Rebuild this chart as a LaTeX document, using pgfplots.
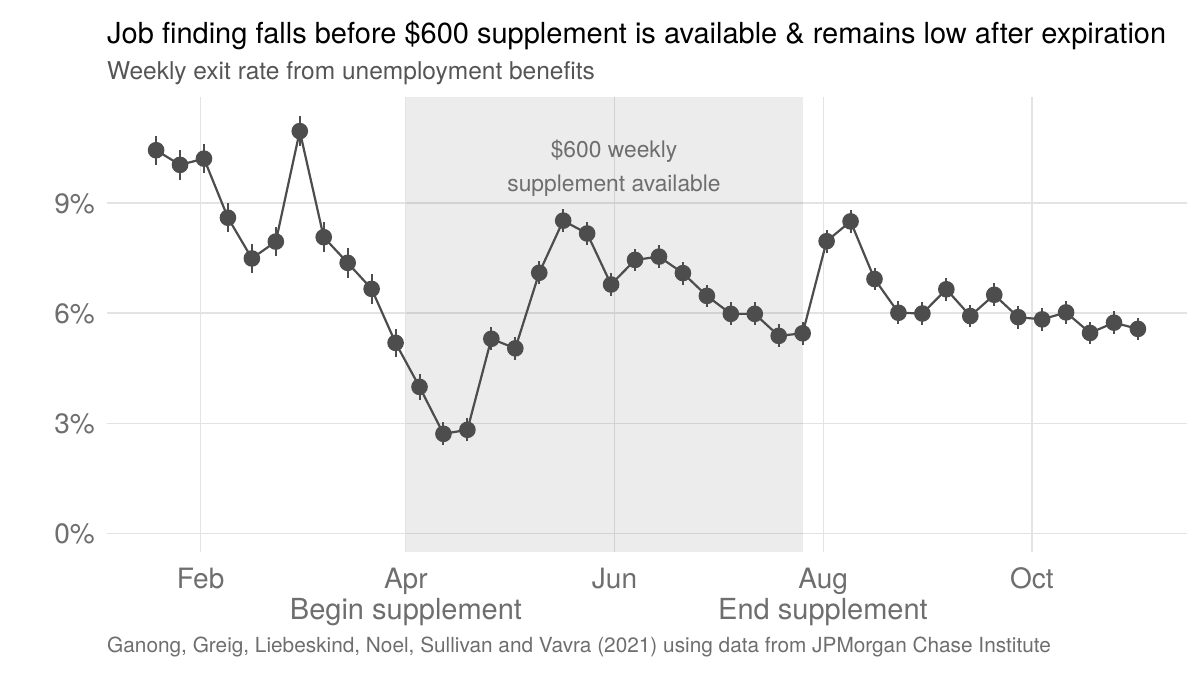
\documentclass[border=0pt]{standalone}
\usepackage{fontspec}
\setmainfont{TeX Gyre Heros}
\usepackage{pgfplots}
\usepackage{pgfplotstable}
\pgfplotsset{compat=1.18}
\definecolor{ink}{HTML}{4D4D4D}
\definecolor{lab}{HTML}{6E6E6E}
\definecolor{sub}{HTML}{555555}
\definecolor{gridc}{HTML}{E3E3E3}
\pgfplotstableread{
d v e
18 10.44 0.40
25 10.04 0.40
32 10.21 0.40
39 8.60 0.40
46 7.49 0.40
53 7.95 0.40
60 10.96 0.40
67 8.07 0.40
74 7.37 0.40
81 6.66 0.40
88 5.19 0.38
95 3.99 0.35
102 2.71 0.31
109 2.82 0.31
116 5.30 0.31
123 5.04 0.31
130 7.10 0.31
137 8.52 0.31
144 8.17 0.31
151 6.78 0.31
158 7.45 0.31
165 7.54 0.31
172 7.09 0.31
179 6.47 0.31
186 5.98 0.31
193 5.98 0.31
200 5.38 0.31
207 5.45 0.31
214 7.96 0.31
221 8.50 0.31
228 6.93 0.31
235 6.01 0.31
242 5.99 0.31
249 6.65 0.31
256 5.92 0.31
263 6.50 0.31
270 5.89 0.31
277 5.83 0.31
284 6.02 0.31
291 5.46 0.31
298 5.74 0.31
305 5.57 0.31
}\exitdata
\begin{document}
\begin{tikzpicture}[x=1pt,y=1pt]
\path[use as bounding box] (-107,-123) rectangle (1093,552);
\begin{axis}[
  at={(0,0)}, anchor=south west,
  scale only axis, width=1080pt, height=455pt,
  xmin=3.65, xmax=319.35, ymin=-0.51, ymax=11.89,
  axis line style={draw=none},
  major tick length=0pt, minor tick length=0pt,
  xtick={31,91,152,213,274}, xticklabels={Feb,Apr,Jun,Aug,Oct},
  ytick={0,3,6,9}, yticklabels={0\%,3\%,6\%,9\%},
  grid=major, major grid style={draw=gridc, line width=1.3pt},
  xticklabel style={font=\fontsize{28}{28}\selectfont, text=lab, anchor=base, inner sep=0pt, yshift=-36pt},
  yticklabel style={font=\fontsize{28}{28}\selectfont, text=lab, anchor=base east, inner sep=0pt, xshift=-12pt, yshift=-10pt},
  clip=true,
]
\addplot[fill=black, fill opacity=0.075, draw=none] coordinates {(91,-0.51) (207,-0.51) (207,11.89) (91,11.89)} -- cycle;
\addplot[ink, line width=2.2pt, mark=*, mark size=7.2pt, mark options={fill=ink, draw=none},
  error bars/.cd, y dir=both, y explicit, error mark=none,
  error bar style={line width=2pt, ink}]
  table[x=d, y=v, y error=e] {\exitdata};
\end{axis}
\node[anchor=base west, inner sep=0pt, text=black, font=\fontsize{29}{29}\selectfont] at (0,508) {Job finding falls before \$600 supplement is available \& remains low after expiration};
\node[anchor=base west, inner sep=0pt, text=sub, font=\fontsize{24.5}{24.5}\selectfont] at (0,472.5) {Weekly exit rate from unemployment benefits};
\node[anchor=base, inner sep=0pt, text=lab, font=\fontsize{22.8}{22.8}\selectfont] at (507,394) {\$600 weekly};
\node[anchor=base, inner sep=0pt, text=lab, font=\fontsize{22.8}{22.8}\selectfont] at (507,360) {supplement available};
\node[anchor=base, inner sep=0pt, text=lab, font=\fontsize{29}{29}\selectfont] at (299,-67) {Begin supplement};
\node[anchor=base, inner sep=0pt, text=lab, font=\fontsize{29}{29}\selectfont] at (716,-67) {End supplement};
\node[anchor=base west, inner sep=0pt, text=lab, font=\fontsize{20.8}{20.8}\selectfont] at (0,-100.5) {Ganong, Greig, Liebeskind, Noel, Sullivan and Vavra (2021) using data from JPMorgan Chase Institute};
\end{tikzpicture}
\end{document}
